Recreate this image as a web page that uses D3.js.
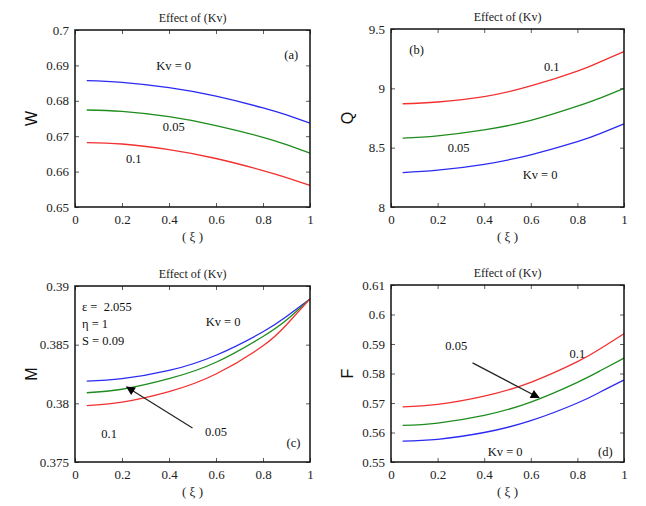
<!DOCTYPE html>
<html><head><meta charset="utf-8">
<script src="https://cdn.jsdelivr.net/npm/d3@7"></script>
<style>body{margin:0;background:#fff}svg{display:block}text{white-space:pre}</style>
</head><body>
<svg id="c" width="646" height="506"></svg>
<script>
// ---- data ----
const xi = [0.05, 0.2, 0.4, 0.6, 0.8, 0.9, 1.0];
const seriesNames = ["Kv = 0", "0.05", "0.1"];
const xTicks = [0, 0.2, 0.4, 0.6, 0.8, 1];

const W_kv0  = [0.6857, 0.6852, 0.6837, 0.6813, 0.6780, 0.6760, 0.6737];
const W_kv05 = [0.6774, 0.6770, 0.6755, 0.6730, 0.6697, 0.6676, 0.6652];
const W_kv1  = [0.6682, 0.6678, 0.6662, 0.6637, 0.6603, 0.6583, 0.6561];
const W_ticks = [0.65, 0.66, 0.67, 0.68, 0.69, 0.7];

const Q_kv0  = [8.29, 8.31, 8.36, 8.44, 8.55, 8.62, 8.70];
const Q_kv05 = [8.58, 8.60, 8.65, 8.73, 8.85, 8.92, 9.00];
const Q_kv1  = [8.87, 8.885, 8.93, 9.02, 9.145, 9.225, 9.31];
const Q_ticks = [8, 8.5, 9, 9.5];

const M_kv0  = [0.3819, 0.3821, 0.3828, 0.3841, 0.3861, 0.3874, 0.3889];
const M_kv05 = [0.3809, 0.3812, 0.3821, 0.3835, 0.3857, 0.3871, 0.3889];
const M_kv1  = [0.3798, 0.3801, 0.3810, 0.3825, 0.3849, 0.3867, 0.3889];
const M_ticks = [0.375, 0.38, 0.385, 0.39];

const F_kv0  = [0.5571, 0.5577, 0.5600, 0.5640, 0.5700, 0.5738, 0.5778];
const F_kv05 = [0.5624, 0.5632, 0.5658, 0.5703, 0.5770, 0.5810, 0.5852];
const F_kv1  = [0.5687, 0.5695, 0.5723, 0.5770, 0.5840, 0.5885, 0.5935];
const F_ticks = [0.55, 0.56, 0.57, 0.58, 0.59, 0.6, 0.61];

const colors = ["#2a2af2", "#1e8c1e", "#f23030"];

const panels = [
  {id:"a", ylab:"W", dom:[0.65,0.7], ticks:W_ticks, series:[W_kv0,W_kv05,W_kv1],
   box:{x:75,y:30,w:235,h:177},
   labels:[{t:"Kv = 0",x:0.42,y:0.6895},{t:"(a)",x:0.92,y:0.6925},{t:"0.05",x:0.42,y:0.6722},{t:"0.1",x:0.25,y:0.6632}]},
  {id:"b", ylab:"Q", dom:[8,9.5], ticks:Q_ticks, series:[Q_kv0,Q_kv05,Q_kv1],
   box:{x:391,y:29,w:233,h:178},
   labels:[{t:"(b)",x:0.11,y:9.31},{t:"0.1",x:0.69,y:9.17},{t:"0.05",x:0.29,y:8.49},{t:"Kv = 0",x:0.64,y:8.26}]},
  {id:"c", ylab:"M", dom:[0.375,0.39], ticks:M_ticks, series:[M_kv0,M_kv05,M_kv1],
   box:{x:75,y:286,w:235,h:176},
   labels:[{t:"Kv = 0",x:0.63,y:0.3868},{t:"0.1",x:0.145,y:0.3773},{t:"0.05",x:0.60,y:0.3775},{t:"(c)",x:0.93,y:0.3765}],
   params:["\u03b5 =  2.055","\u03b7 = 1","S = 0.09"],
   arrow:{x1:0.50,y1:0.3779,x2:0.22,y2:0.3814}},
  {id:"d", ylab:"F", dom:[0.55,0.61], ticks:F_ticks, series:[F_kv0,F_kv05,F_kv1],
   box:{x:391,y:285,w:233,h:177},
   labels:[{t:"0.05",x:0.28,y:0.5890},{t:"0.1",x:0.80,y:0.5863},{t:"Kv = 0",x:0.49,y:0.5531},{t:"(d)",x:0.92,y:0.5531}],
   arrow:{x1:0.35,y1:0.5836,x2:0.635,y2:0.5718}}
];

const svg = d3.select("#c");
const defs = svg.append("defs");
defs.append("marker").attr("id","ah").attr("viewBox","0 0 10 10").attr("refX",9).attr("refY",5)
  .attr("markerWidth",12).attr("markerHeight",9).attr("orient","auto-start-reverse")
  .attr("markerUnits","userSpaceOnUse")
  .append("path").attr("d","M0,0 L10,5 L0,10 z").attr("fill","#000");

const serif = "'Liberation Serif', 'Times New Roman', serif";

panels.forEach(p => {
  const b = p.box;
  const x = d3.scaleLinear().domain([0,1]).range([b.x, b.x+b.w]);
  const y = d3.scaleLinear().domain(p.dom).range([b.y+b.h, b.y]);
  const g = svg.append("g");

  // curves
  const line = d3.line().x((d,i)=>x(xi[i])).y(d=>y(d)).curve(d3.curveNatural);
  p.series.forEach((s,k) => {
    g.append("path").attr("d", line(s)).attr("fill","none")
      .attr("stroke", colors[k]).attr("stroke-width",1.3);
  });

  // axes (inward ticks, matlab box)
  const ax = (gen, tx, ty) => {
    const a = g.append("g").attr("transform",`translate(${tx},${ty})`).call(gen);
    a.select(".domain").remove();
    a.selectAll("line").attr("stroke","#333").attr("stroke-width",0.8);
    a.selectAll("text").attr("font-family",serif).attr("font-size",13).attr("fill","#222");
    return a;
  };
  ax(d3.axisBottom(x).tickValues(xTicks).tickSize(-4).tickPadding(8).tickFormat(d=>String(d)), 0, b.y+b.h);
  ax(d3.axisTop(x).tickValues(xTicks).tickSize(-4).tickFormat(""), 0, b.y);
  ax(d3.axisLeft(y).tickValues(p.ticks).tickSize(-4).tickPadding(6).tickFormat(d=>String(d)), b.x, 0);
  ax(d3.axisRight(y).tickValues(p.ticks).tickSize(-4).tickFormat(""), b.x+b.w, 0);

  g.append("rect").attr("x",b.x).attr("y",b.y).attr("width",b.w).attr("height",b.h)
    .attr("fill","none").attr("stroke","#111").attr("stroke-width",1.5);

  // title
  g.append("text").attr("x", b.x+b.w/2).attr("y", b.y-8).attr("text-anchor","middle")
    .attr("font-family",serif).attr("font-size",12).attr("fill","#222").text("Effect of (Kv)");
  // x label
  g.append("text").attr("x", b.x+b.w/2).attr("y", b.y+b.h+34).attr("text-anchor","middle")
    .attr("font-family",serif).attr("font-size",13).attr("fill","#222").text("( \u03be )");
  // y label
  g.append("text").attr("transform",`translate(${b.x-38},${b.y+b.h/2}) rotate(-90)`)
    .attr("text-anchor","middle").attr("font-family","'Liberation Sans', Arial, sans-serif")
    .attr("font-size",16).attr("fill","#111").text(p.ylab);

  // labels
  p.labels.forEach(l => {
    g.append("text").attr("x", x(l.x)).attr("y", y(l.y)).attr("text-anchor","middle")
      .attr("dominant-baseline","middle").attr("font-family",serif).attr("font-size",12.5)
      .attr("fill","#111").text(l.t);
  });
  if (p.params) {
    p.params.forEach((t,i) => {
      g.append("text").attr("x", b.x+7).attr("y", b.y+25+i*17)
        .attr("font-family",serif).attr("font-size",12.5).attr("fill","#111").text(t);
    });
  }
  if (p.arrow) {
    const a = p.arrow;
    g.append("line").attr("x1",x(a.x1)).attr("y1",y(a.y1)).attr("x2",x(a.x2)).attr("y2",y(a.y2))
      .attr("stroke","#222").attr("stroke-width",1.2).attr("marker-end","url(#ah)");
  }
});
</script>
</body></html>
